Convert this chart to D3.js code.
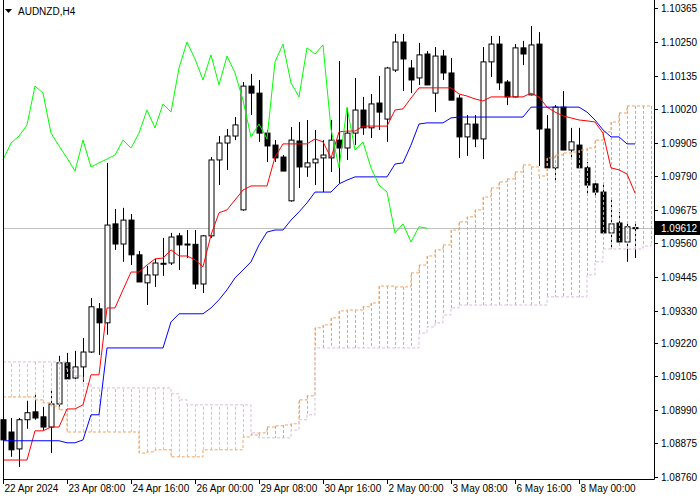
<!DOCTYPE html>
<html>
<head>
<meta charset="utf-8">
<script src="https://cdn.jsdelivr.net/npm/d3@7/dist/d3.min.js"></script>
<style>
  body { margin: 0; background: #fff; }
  text { font-family: "Liberation Sans", "DejaVu Sans", sans-serif; font-size: 10px; }
</style>
</head>
<body>
<svg id="chart" width="700" height="500"></svg>
<script>
// AUDNZD H4 candles, bar 0 = 22 Apr 2024 00:00
const opens  = [1.08956,1.08914,1.08856,1.08956,1.08983,1.08966,1.08931,1.09010,1.09151,1.09099,
                1.09137,1.09188,1.09336,1.09288,1.09627,1.09558,1.09640,1.09521,1.09425,1.09452,
                1.09490,1.09493,1.09586,1.09558,1.09557,1.09421,1.09586,1.09846,1.09904,1.09928,
                1.09675,1.10099,1.10075,1.09938,1.09897,1.09856,1.09706,1.09911,1.09822,1.09836,
                1.09853,1.09853,1.09914,1.09887,1.09938,1.10017,1.09956,1.10041,1.09986,1.10154,
                1.10250,1.10161,1.10127,1.10209,1.10075,1.10202,1.10144,1.10058,1.09925,1.09969,
                1.09918,1.10182,1.10243,1.10113,1.10062,1.10230,1.10069,1.10243,1.09952,1.09819,
                1.10027,1.09880,1.09897,1.09819,1.09764,1.09736,1.09596,1.09630,1.09565,1.09614];
const highs  = [1.09051,1.08962,1.08962,1.09021,1.09051,1.09000,1.09058,1.09175,1.09185,1.09192,
                1.09236,1.09373,1.09356,1.09836,1.09678,1.09682,1.09661,1.09534,1.09483,1.09507,
                1.09579,1.09596,1.09596,1.09606,1.09606,1.09589,1.09856,1.09928,1.09952,1.09993,
                1.10113,1.10141,1.10120,1.09949,1.09914,1.09863,1.09959,1.09976,1.09983,1.09949,
                1.09914,1.09983,1.10185,1.10024,1.10127,1.10062,1.10072,1.10134,1.10165,1.10278,
                1.10278,1.10188,1.10247,1.10219,1.10233,1.10223,1.10195,1.10069,1.10000,1.10000,
                1.10233,1.10271,1.10271,1.10120,1.10243,1.10254,1.10305,1.10284,1.10000,1.10034,
                1.10082,1.09956,1.09956,1.09839,1.09777,1.09767,1.09709,1.09668,1.09634,1.09634];
const lows   = [1.08784,1.08829,1.08794,1.08925,1.08956,1.08921,1.08842,1.08990,1.09086,1.09089,
                1.09086,1.09185,1.09178,1.09247,1.09538,1.09497,1.09486,1.09428,1.09349,1.09411,
                1.09449,1.09486,1.09469,1.09510,1.09404,1.09390,1.09579,1.09760,1.09812,1.09914,
                1.09672,1.10000,1.09908,1.09839,1.09839,1.09808,1.09703,1.09750,1.09788,1.09760,
                1.09736,1.09805,1.09767,1.09846,1.09897,1.09932,1.09921,1.09949,1.09908,1.10147,
                1.10082,1.10075,1.10103,1.10103,1.10010,1.10120,1.10051,1.09853,1.09860,1.09890,
                1.09849,1.10130,1.10086,1.10034,1.10060,1.10171,1.10067,1.09825,1.09819,1.09767,
                1.09880,1.09846,1.09819,1.09726,1.09716,1.09596,1.09541,1.09565,1.09497,1.09510];
const closes = [1.08887,1.08853,1.08956,1.08980,1.08962,1.08931,1.09010,1.09151,1.09096,1.09137,
                1.09188,1.09343,1.09288,1.09623,1.09558,1.09640,1.09521,1.09428,1.09452,1.09493,
                1.09492,1.09582,1.09555,1.09557,1.09421,1.09586,1.09846,1.09904,1.09928,1.09966,
                1.10099,1.10075,1.09938,1.09894,1.09853,1.09808,1.09914,1.09822,1.09836,1.09849,
                1.09863,1.09914,1.09887,1.09938,1.10017,1.09956,1.10038,1.10010,1.10161,1.10250,
                1.10192,1.10120,1.10206,1.10103,1.10202,1.10144,1.10051,1.09925,1.09969,1.09918,
                1.10182,1.10243,1.10110,1.10062,1.10230,1.10209,1.10240,1.09952,1.09819,1.10027,
                1.09880,1.09908,1.09819,1.09760,1.09736,1.09596,1.09627,1.09565,1.09617,1.09612];

// Ichimoku lines
const tenkan = [1.08818,1.08818,1.08818,1.08818,1.08918,1.08918,1.08931,1.08931,1.08993,1.08993,
                1.09007,1.09110,1.09110,1.09339,1.09339,1.09401,1.09462,1.09462,1.09486,1.09507,
                1.09510,1.09538,1.09517,1.09517,1.09504,1.09480,1.09589,1.09665,1.09675,1.09709,
                1.09743,1.09757,1.09757,1.09757,1.09856,1.09901,1.09901,1.09901,1.09901,1.09918,
                1.09908,1.09853,1.09942,1.09945,1.09945,1.09962,1.09962,1.09962,1.09962,1.10017,
                1.10021,1.10058,1.10093,1.10093,1.10093,1.10093,1.10093,1.10072,1.10065,1.10055,
                1.10048,1.10062,1.10062,1.10062,1.10062,1.10062,1.10075,1.10062,1.10027,1.10010,
                1.09997,1.09990,1.09983,1.09980,1.09976,1.09938,1.09819,1.09812,1.09798,1.09733];
const kijun  = [1.08884,1.08884,1.08884,1.08884,1.08884,1.08884,1.08884,1.08884,1.08877,1.08877,
                1.08887,1.08973,1.08973,1.09202,1.09202,1.09202,1.09202,1.09202,1.09202,1.09202,
                1.09202,1.09291,1.09319,1.09319,1.09319,1.09319,1.09339,1.09367,1.09401,1.09442,
                1.09469,1.09497,1.09555,1.09599,1.09606,1.09606,1.09640,1.09668,1.09699,1.09736,
                1.09736,1.09736,1.09764,1.09777,1.09788,1.09788,1.09788,1.09788,1.09788,1.09832,
                1.09836,1.09897,1.09969,1.09973,1.09973,1.09973,1.09990,1.09993,1.09993,1.09993,
                1.09993,1.09993,1.09993,1.09993,1.09993,1.09993,1.10027,1.10027,1.10027,1.10027,
                1.10027,1.10027,1.10027,1.10010,1.09983,1.09949,1.09925,1.09925,1.09901,1.09901];
const spanA  = [1.09034,1.09034,1.09034,1.09034,1.09024,1.09014,1.09003,1.08990,1.08914,1.08914,
                1.08914,1.08914,1.08914,1.08914,1.08914,1.08914,1.08914,1.08842,1.08846,1.08853,
                1.08853,1.08829,1.08829,1.08829,1.08829,1.08853,1.08853,1.08853,1.08853,1.08853,
                1.08897,1.08904,1.08911,1.08931,1.08935,1.08938,1.08942,1.09024,1.09038,1.09271,
                1.09281,1.09305,1.09329,1.09332,1.09332,1.09343,1.09356,1.09414,1.09414,1.09411,
                1.09411,1.09459,1.09486,1.09517,1.09538,1.09555,1.09606,1.09634,1.09651,1.09675,
                1.09719,1.09750,1.09771,1.09781,1.09805,1.09829,1.09822,1.09791,1.09853,1.09863,
                1.09870,1.09873,1.09880,1.09887,1.09914,1.09942,1.09976,1.10007,1.10031,1.10031,
                1.10031,1.10031];
const spanB  = [1.09154,1.09154,1.09154,1.09154,1.09154,1.09154,1.09154,1.09154,1.09127,1.09106,
                1.09079,1.09065,1.09065,1.09065,1.09065,1.09065,1.09065,1.09065,1.09065,1.09065,
                1.09065,1.09045,1.09024,1.09007,1.09007,1.09007,1.09007,1.09007,1.09007,1.09007,
                1.09007,1.08911,1.08894,1.08894,1.08894,1.08894,1.08921,1.08956,1.08973,1.09202,
                1.09202,1.09202,1.09202,1.09202,1.09202,1.09202,1.09202,1.09202,1.09202,1.09202,
                1.09202,1.09202,1.09253,1.09274,1.09288,1.09315,1.09339,1.09349,1.09349,1.09349,
                1.09349,1.09349,1.09349,1.09349,1.09349,1.09349,1.09349,1.09349,1.09377,1.09377,
                1.09377,1.09377,1.09377,1.09452,1.09497,1.09541,1.09541,1.09541,1.09541,1.09541,
                1.09551,1.09562];
const chikouShift = 26;

const priceTicks = ["1.10365","1.10250","1.10135","1.10020","1.09905","1.09790","1.09675","1.09560",
                    "1.09445","1.09330","1.09220","1.09105","1.08990","1.08875","1.08760"];
const timeTickBars = [0, 8, 16, 24, 32, 40, 48, 56, 64, 72];
const timeTicks = ["22 Apr 2024","23 Apr 08:00","24 Apr 16:00","26 Apr 00:00","29 Apr 08:00",
                   "30 Apr 16:00","2 May 00:00","3 May 08:00","6 May 16:00","8 May 00:00"];
const lastPrice = 1.09612;

const svg = d3.select("#chart");
const plotRight = 654, plotBottom = 479, plotLeft = 3;

const x = d3.scaleLinear().domain([0, 81]).range([3, 651]);
const y = d3.scaleLinear().domain([1.08753, 1.10394]).range([plotBottom, 0]);

const g = svg.append("g");

// current price line
g.append("line")
  .attr("x1", plotLeft).attr("x2", plotRight)
  .attr("y1", Math.round(y(lastPrice)) + 0.5).attr("y2", Math.round(y(lastPrice)) + 0.5)
  .attr("stroke", "#c0c0c0");

// candles
const candles = g.append("g").selectAll("g").data(opens).enter().append("g");
candles.append("line")
  .attr("x1", (d, i) => Math.round(x(i)) + 0.5).attr("x2", (d, i) => Math.round(x(i)) + 0.5)
  .attr("y1", (d, i) => y(highs[i])).attr("y2", (d, i) => y(lows[i]))
  .attr("stroke", "#000");
candles.append("rect")
  .attr("x", (d, i) => Math.round(x(i)) - 2)
  .attr("width", 5)
  .attr("y", (d, i) => y(Math.max(d, closes[i])))
  .attr("height", (d, i) => Math.max(1, Math.abs(y(d) - y(closes[i]))))
  .attr("fill", (d, i) => closes[i] >= d ? "#fff" : "#000")
  .attr("stroke", "#000");

// cloud hatch
const orange = "#f4a460", thistle = "#d8bfd8";
g.append("g").selectAll("line").data(spanA).enter().append("line")
  .attr("x1", (d, i) => Math.round(x(i)) + 0.5).attr("x2", (d, i) => Math.round(x(i)) + 0.5)
  .attr("y1", d => y(d)).attr("y2", (d, i) => y(spanB[i]))
  .attr("stroke", (d, i) => d >= spanB[i] ? orange : thistle)
  .attr("stroke-dasharray", "3,2");

const line = d3.line().x((d, i) => x(i)).y(d => y(d)).curve(d3.curveStepAfter);
const lineL = d3.line().x((d, i) => x(i)).y(d => y(d));

g.append("path").datum(spanA).attr("d", line).attr("fill", "none")
  .attr("stroke", orange).attr("stroke-dasharray", "3,2");
g.append("path").datum(spanB).attr("d", line).attr("fill", "none")
  .attr("stroke", thistle).attr("stroke-dasharray", "3,2");

g.append("path").datum(tenkan).attr("d", lineL).attr("fill", "none").attr("stroke", "#ff0000");
g.append("path").datum(kijun).attr("d", lineL).attr("fill", "none").attr("stroke", "#0000ff");
g.append("path").datum(closes.slice(chikouShift)).attr("d", lineL).attr("fill", "none").attr("stroke", "#00ff00");

// frame
svg.append("path")
  .attr("d", `M${plotLeft + 0.5},0V${plotBottom + 0.5}H${plotRight + 0.5}V0`)
  .attr("fill", "none").attr("stroke", "#000");

// price axis
priceTicks.forEach(t => {
  const py = Math.round(y(+t)) + 0.5;
  svg.append("line").attr("x1", plotRight).attr("x2", plotRight + 4)
    .attr("y1", py).attr("y2", py).attr("stroke", "#000");
  svg.append("text").attr("x", 661).attr("y", py + 3.5).text(t);
});

// last price marker
const ly = Math.round(y(lastPrice));
svg.append("rect").attr("x", plotRight + 1).attr("y", ly - 7).attr("width", 46).attr("height", 14).attr("fill", "#000");
svg.append("text").attr("x", 661).attr("y", ly + 4).attr("fill", "#fff").text(lastPrice.toFixed(5));

// time axis
timeTickBars.forEach((b, i) => {
  const tx = Math.round(x(b)) + 0.5;
  svg.append("line").attr("x1", tx).attr("x2", tx).attr("y1", plotBottom).attr("y2", plotBottom + 5).attr("stroke", "#000");
  svg.append("text").attr("x", tx + 1).attr("y", 492).text(timeTicks[i]);
});

// title
svg.append("path").attr("d", "M5,9L12,9L8.5,13Z").attr("fill", "#000");
svg.append("text").attr("x", 18).attr("y", 15).text("AUDNZD,H4");
</script>
</body>
</html>
